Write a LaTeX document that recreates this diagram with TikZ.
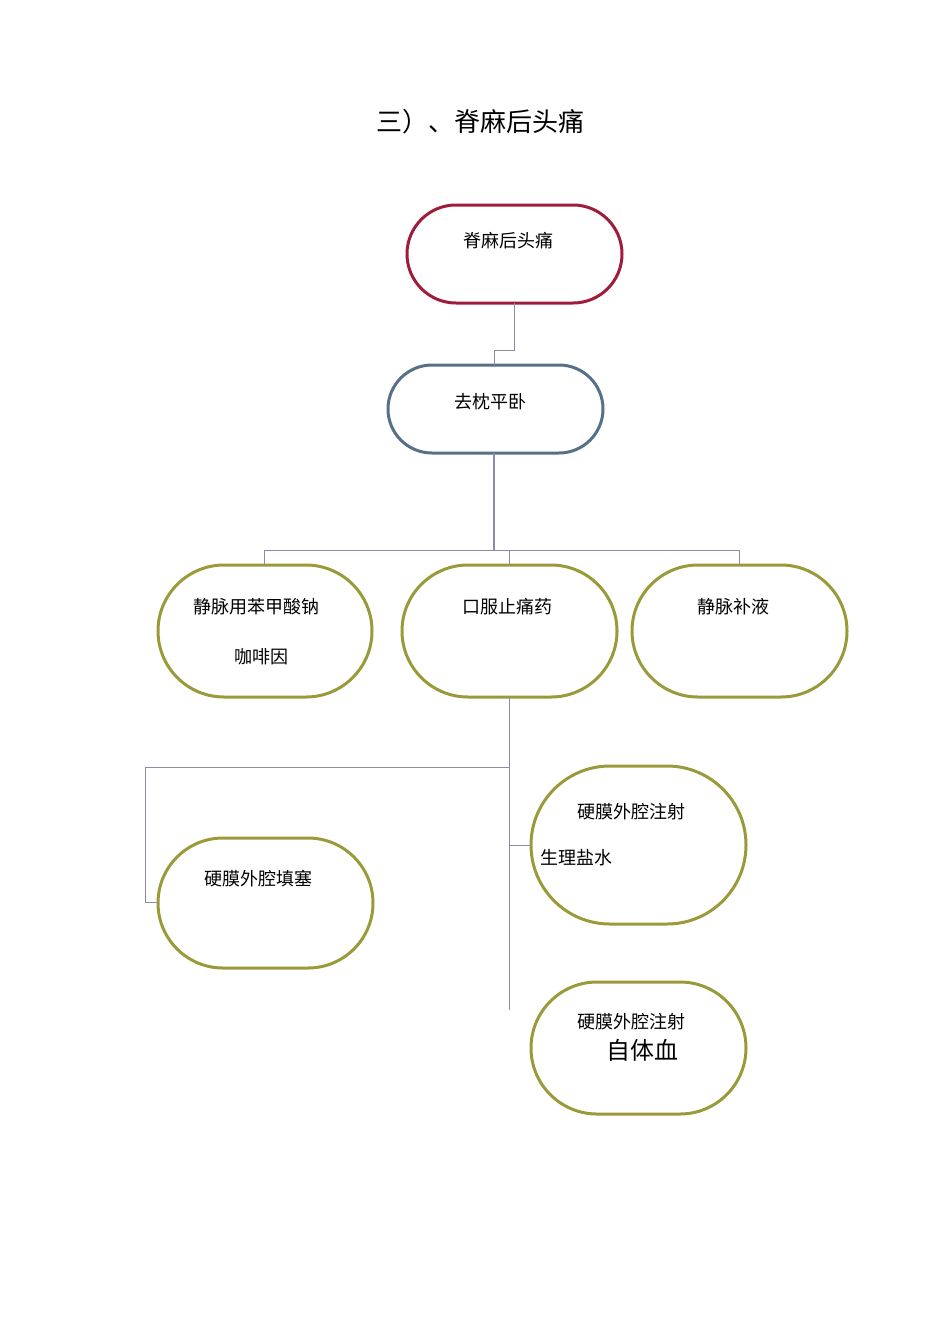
\documentclass[tikz,border=0pt]{standalone}
\usepackage{fontspec}
\setmainfont{Noto Sans CJK SC}
\definecolor{rd}{HTML}{A01C3C}
\definecolor{bl}{HTML}{557088}
\definecolor{ol}{HTML}{9A9A3A}
\definecolor{ln}{HTML}{8A8AAA}
\begin{document}
\begin{tikzpicture}[x=1pt,y=-1pt,
  pill/.style={line width=3pt},
  lbl/.style={font=\fontsize{18}{20}\selectfont, inner sep=0},
  conn/.style={ln, line width=1pt}]
\useasboundingbox (0,0) rectangle (950,1344);
\node[font=\fontsize{26}{28}\selectfont] (title) at (480,122) {三）、脊麻后头痛};
% boxes
\draw[pill,rd,rounded corners=49pt] (407,205) rectangle (622,303);
\node[lbl] (a) at (508,241) {脊麻后头痛};
\draw[pill,bl,rounded corners=44pt] (388,365) rectangle (603,453);
\node[lbl] (b) at (490,402) {去枕平卧};
\draw[pill,ol,rounded corners=66pt] (158,565) rectangle (372,697);
\node[lbl] (c1) at (256,607) {静脉用苯甲酸钠};
\node[lbl] (c2) at (261,657) {咖啡因};
\draw[pill,ol,rounded corners=66pt] (402,565) rectangle (617,697);
\node[lbl] (d) at (507,607) {口服止痛药};
\draw[pill,ol,rounded corners=66pt] (632,565) rectangle (847,697);
\node[lbl] (e) at (733,607) {静脉补液};
\draw[pill,ol,rounded corners=65pt] (158,838) rectangle (373,968);
\node[lbl] (f) at (258,879) {硬膜外腔填塞};
\draw[pill,ol,rounded corners=79pt] (531,766) rectangle (746,924);
\node[lbl] (g1) at (631,812) {硬膜外腔注射};
\node[lbl] (g2) at (576,858) {生理盐水};
\draw[pill,ol,rounded corners=66pt] (531,982) rectangle (746,1114);
\node[lbl] (h1) at (631,1022) {硬膜外腔注射};
\node[lbl,font=\fontsize{24}{26}\selectfont] (h2) at (642,1050) {自体血};
% connectors
\draw[conn] (514,303) -- (514,350) -- (494,350) -- (494,365);
\draw[conn,line width=2pt] (494,453) -- (494,550);
\draw[conn] (264,565) -- (264,550) -- (739,550) -- (739,565);
\draw[conn] (509,550) -- (509,565);
\draw[conn] (509,697) -- (509,1010);
\draw[conn] (509,767) -- (145,767) -- (145,902) -- (158,902);
\draw[conn] (509,845) -- (531,845);
\end{tikzpicture}
\end{document}
